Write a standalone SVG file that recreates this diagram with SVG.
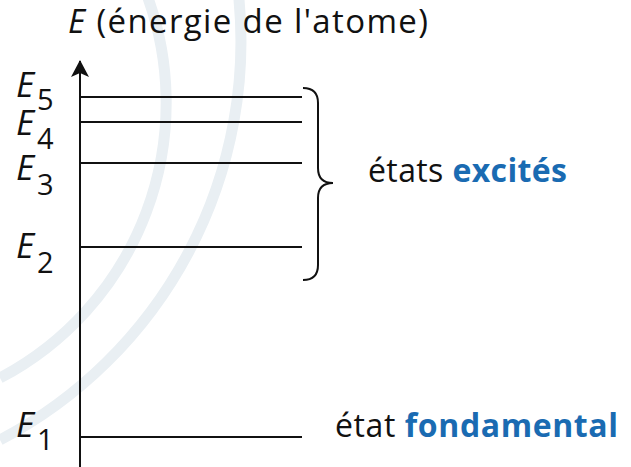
<svg xmlns="http://www.w3.org/2000/svg" width="631" height="467" viewBox="0 0 631 467">
<defs>
<style>
.t{font-family:"Open Sans","Noto Sans","Liberation Sans",sans-serif;fill:#111;}
.lab{font-size:35px;font-style:italic;}
.sub{font-size:29px;}
.lvl{stroke:#111;stroke-width:2;fill:none;}
.wm{stroke:#e9eff3;stroke-width:11;fill:none;}
.blue{fill:#1a6bb2;font-weight:bold;}
</style>
<marker id="ah" markerWidth="18" markerHeight="18" viewBox="0 0 18 18" refX="16" refY="9" orient="auto" markerUnits="userSpaceOnUse">
<path d="M0,0 L17,9 L0,18 L4,9 Z" fill="#111"/>
</marker>
</defs>
<rect width="631" height="467" fill="#fff"/>
<g id="watermark">
<path class="wm" d="M145,-10 A311,311 0 0 1 0,378"/>
<path class="wm" d="M238,-10 A450,450 0 0 1 0,440"/>
</g>
<g id="connectors">
<line x1="80" y1="467" x2="80" y2="61" stroke="#111" stroke-width="2" marker-end="url(#ah)"/>
</g>
<g id="title"><text class="t" x="68" y="33" font-size="33" textLength="360"><tspan font-style="italic">E</tspan> (énergie de l'atome)</text></g>
<g id="E5"><line class="lvl" x1="80" y1="97" x2="302" y2="97"/><text class="t lab" x="16" y="97">E</text><text class="t sub" x="37" y="110">5</text></g>
<g id="E4"><line class="lvl" x1="80" y1="122" x2="302" y2="122"/><text class="t lab" x="16" y="135">E</text><text class="t sub" x="37" y="149">4</text></g>
<g id="E3"><line class="lvl" x1="80" y1="163" x2="302" y2="163"/><text class="t lab" x="16" y="180">E</text><text class="t sub" x="37" y="195">3</text></g>
<g id="E2"><line class="lvl" x1="80" y1="247" x2="302" y2="247"/><text class="t lab" x="16" y="258">E</text><text class="t sub" x="37" y="273">2</text></g>
<g id="E1"><line class="lvl" x1="80" y1="437" x2="302" y2="437"/><text class="t lab" x="16" y="437">E</text><text class="t sub" x="37" y="450">1</text></g>
<g id="brace"><path class="lvl" d="M303,88 Q318,88 318,103 L318,168 Q318,183 333,183 Q318,183 318,198 L318,265 Q318,280 303,280"/></g>
<g id="excites"><text class="t" x="368" y="182" font-size="32" textLength="199">états <tspan class="blue">excités</tspan></text></g>
<g id="fondamental"><text class="t" x="335" y="437" font-size="32" textLength="283">état <tspan class="blue">fondamental</tspan></text></g>
</svg>
